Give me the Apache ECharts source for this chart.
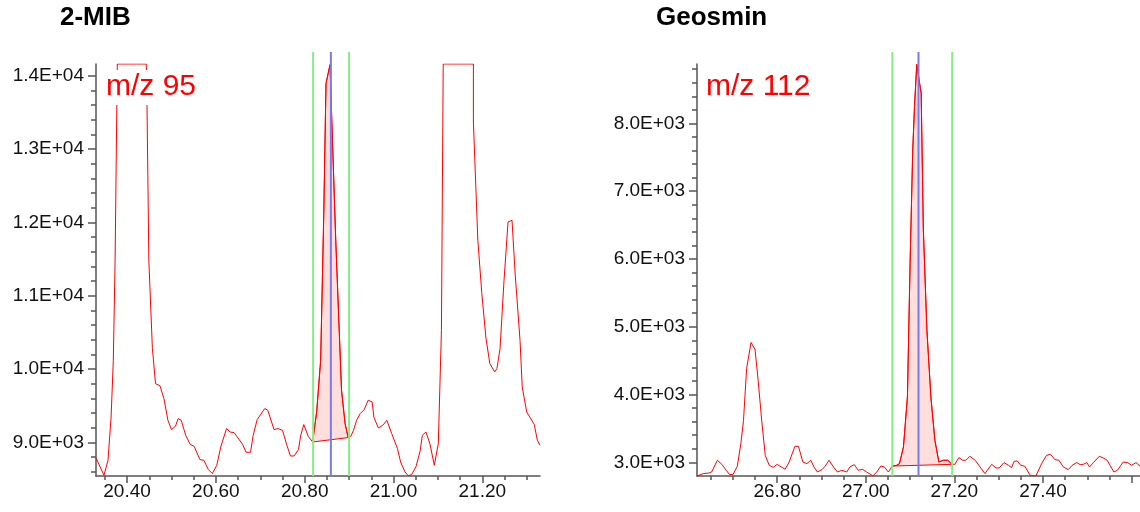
<!DOCTYPE html>
<html>
<head>
<meta charset="utf-8">
<title>2-MIB / Geosmin</title>
<script src="https://cdn.jsdelivr.net/npm/echarts@6/dist/echarts.min.js"></script>
<style>
  html, body { margin: 0; padding: 0; background: #fff; }
  #chart { width: 1140px; height: 512px; }
</style>
</head>
<body>
<div id="chart"></div>
<script>
// 2-MIB, m/z 95 : retention time (min) and abundance
// (values at 14160 are the saturated / clipped tops)
const mibTime = [
  20.330, 20.348, 20.357, 20.364, 20.369, 20.373, 20.378, 20.389, 20.400, 20.410,
  20.421, 20.432, 20.443, 20.444, 20.449, 20.457, 20.464, 20.474, 20.483, 20.492,
  20.500, 20.509, 20.515, 20.522, 20.532, 20.542, 20.551, 20.564, 20.573, 20.583,
  20.592, 20.602, 20.611, 20.624, 20.632, 20.641, 20.660, 20.668, 20.678, 20.684,
  20.693, 20.710, 20.717, 20.731, 20.740, 20.750, 20.760, 20.768, 20.776, 20.786,
  20.791, 20.798, 20.808, 20.818, 20.827, 20.836, 20.843, 20.848, 20.857, 20.870,
  20.883, 20.891, 20.898, 20.904, 20.910, 20.917, 20.925, 20.934, 20.943, 20.952,
  20.956, 20.966, 20.976, 20.985, 20.996, 21.009, 21.016, 21.026, 21.033, 21.041,
  21.051, 21.060, 21.065, 21.073, 21.082, 21.092, 21.101, 21.108, 21.112, 21.122,
  21.133, 21.144, 21.155, 21.166, 21.180, 21.180, 21.190, 21.199, 21.208, 21.217,
  21.228, 21.233, 21.240, 21.249, 21.258, 21.267, 21.274, 21.285, 21.290, 21.300,
  21.317, 21.324, 21.330
];
const mibAbund = [
  8786, 8550, 8754, 9345, 10119, 11482, 14160, 14160, 14160, 14160,
  14160, 14160, 14160, 14047, 11482, 10282, 9801, 9771, 9596, 9300,
  9173, 9218, 9323, 9300, 9095, 8973, 8945, 8764, 8754, 8628,
  8573, 8686, 8936, 9187, 9140, 9132, 8973, 8864, 8864, 9095,
  9310, 9460, 9436, 9173, 9187, 9164, 8959, 8813, 8813, 8900,
  9095, 9241, 9082, 9004, 9416, 10119, 12120, 13893, 14150, 11755,
  9709, 9255, 9064, 9082, 9164, 9300, 9391, 9446, 9573, 9550,
  9337, 9195, 9232, 9300, 9119, 8914, 8731, 8595, 8545, 8559,
  8673, 8881, 9095, 9140, 8982, 8686, 8982, 10528, 14160, 14160,
  14160, 14160, 14160, 14160, 14160, 13369, 11755, 11028, 10436, 10073,
  9959, 10005, 10278, 11210, 12005, 12028, 11301, 10391, 9754, 9413,
  9245, 9027, 8959
];

// Geosmin, m/z 112
const geoTime = [
  26.620, 26.633, 26.645, 26.652, 26.665, 26.675, 26.685, 26.692, 26.700, 26.710,
  26.718, 26.724, 26.731, 26.741, 26.750, 26.757, 26.765, 26.773, 26.782, 26.791,
  26.800, 26.809, 26.818, 26.827, 26.840, 26.848, 26.858, 26.867, 26.876, 26.883,
  26.891, 26.901, 26.908, 26.917, 26.927, 26.936, 26.946, 26.957, 26.964, 26.974,
  26.983, 26.992, 27.002, 27.016, 27.025, 27.034, 27.042, 27.051, 27.060, 27.070,
  27.076, 27.085, 27.094, 27.100, 27.106, 27.110, 27.115, 27.125, 27.130, 27.138,
  27.147, 27.156, 27.165, 27.175, 27.185, 27.195, 27.201, 27.210, 27.219, 27.226,
  27.235, 27.247, 27.258, 27.269, 27.284, 27.294, 27.301, 27.312, 27.322, 27.329,
  27.335, 27.342, 27.350, 27.359, 27.371, 27.384, 27.397, 27.408, 27.417, 27.427,
  27.436, 27.446, 27.457, 27.466, 27.476, 27.484, 27.491, 27.499, 27.505, 27.514,
  27.527, 27.536, 27.545, 27.560, 27.568, 27.581, 27.591, 27.600, 27.610, 27.619
];
const geoAbund = [
  2800, 2833, 2842, 2857, 3030, 2970, 2882, 2823, 2818, 2941,
  3276, 3620, 4384, 4768, 4665, 4211, 3620, 3103, 2956, 2926,
  2970, 2931, 2897, 3004, 3236, 3236, 3004, 2981, 3030, 2931,
  2857, 2892, 2941, 3030, 2931, 2857, 2882, 2857, 2931, 2966,
  2882, 2897, 2857, 2800, 2857, 2945, 2931, 2857, 2945, 2956,
  2981, 3226, 3965, 5935, 7608, 8248, 8870, 8445, 6427, 4950,
  3964, 3325, 3004, 3030, 3030, 2970, 2970, 3069, 3030, 3030,
  3089, 3030, 2931, 2833, 2970, 2916, 2916, 2996, 2956, 2922,
  3015, 3019, 2956, 2941, 2808, 2800, 2981, 3103, 3118, 3040,
  3030, 2931, 2892, 2956, 2996, 2966, 2970, 2996, 2931, 2996,
  3089, 3064, 3030, 2857, 2882, 3004, 2996, 2956, 2996, 2945
];

// integration window (green) and apex (blue)
const mibWindow = [20.819, 20.900];
const mibApex = 20.859;
const geoWindow = [27.060, 27.195];
const geoApex = 27.119;

// axis ranges and ticks
const mibXRange = [20.33, 21.33];
const mibYRange = [8540, 14160];
const mibMarkerTop = 14324;
const geoXRange = [26.619, 27.619];
const geoYRange = [2798, 8876];
const geoMarkerTop = 9053;

const mibXTicks = [20.40, 20.60, 20.80, 21.00, 21.20];
const mibYTicks = [9000, 10000, 11000, 12000, 13000, 14000];
const geoXTicks = [26.80, 27.00, 27.20, 27.40, 27.60];
const geoXLabels = [26.80, 27.00, 27.20, 27.40];
const geoYTicks = [3000, 4000, 5000, 6000, 7000, 8000];

function steps(from, to, step) {
  const out = [];
  for (let v = from; v <= to + step / 1000; v += step) out.push(+v.toFixed(3));
  return out;
}
const mibXMinor = steps(20.35, 21.30, 0.05);
const mibYMinor = steps(8600, 14000, 200);
const geoXMinor = steps(26.65, 27.60, 0.05);
const geoYMinor = steps(3000, 8800, 200);

function zip(xs, ys) { return xs.map((x, i) => [x, ys[i]]); }
const mibData = zip(mibTime, mibAbund);
const geoData = zip(geoTime, geoAbund);

function sci(v) {
  const p = v.toExponential(1).split('e');
  return p[0] + 'E' + p[1][0] + p[1].slice(1).padStart(2, '0');
}

const FONT = '"Liberation Sans", Arial, sans-serif';
const axisLine = { show: true, onZero: false, lineStyle: { color: '#555', width: 1.5 } };

function majorX(grid, range, ticks, labels) {
  return {
    type: 'value', gridIndex: grid, min: range[0], max: range[1],
    axisLine: axisLine,
    axisTick: { show: true, length: 7, customValues: ticks, lineStyle: { color: '#555', width: 1.5 } },
    axisLabel: { customValues: labels, formatter: v => v.toFixed(2), fontSize: 19, color: '#111', margin: 6, fontFamily: FONT },
    splitLine: { show: false }
  };
}
function majorY(grid, range, ticks) {
  return {
    type: 'value', gridIndex: grid, min: range[0], max: range[1],
    axisLine: axisLine,
    axisTick: { show: true, length: 8, customValues: ticks, lineStyle: { color: '#555', width: 1.5 } },
    axisLabel: { customValues: ticks, formatter: sci, fontSize: 19, color: '#111', margin: 12, fontFamily: FONT },
    splitLine: { show: false }
  };
}
function minorAxis(grid, range, ticks, len) {
  return {
    type: 'value', gridIndex: grid, min: range[0], max: range[1],
    axisLine: { show: false },
    axisTick: { show: true, length: len, customValues: ticks, lineStyle: { color: '#555', width: 1.5 } },
    axisLabel: { show: false },
    splitLine: { show: false }
  };
}

function peakArea(data, win, idx) {
  const pts = data.filter(p => p[0] >= win[0] - 0.002 && p[0] <= win[1] + 0.002);
  return {
    type: 'custom', xAxisIndex: idx, yAxisIndex: idx, z: 1, silent: true,
    data: [pts[0]],
    renderItem: function (params, api) {
      return {
        type: 'polygon',
        shape: { points: pts.map(p => api.coord(p)) },
        style: { fill: 'rgba(255,0,0,0.13)', stroke: '#ff0000', lineWidth: 1 }
      };
    }
  };
}
function trace(data, idx) {
  return {
    type: 'line', xAxisIndex: idx, yAxisIndex: idx, data: data, z: 2,
    symbol: 'none', lineStyle: { color: '#ff0000', width: 1 }, silent: true
  };
}
function marker(x, yMin, yTop, color, idx) {
  return {
    type: 'line', xAxisIndex: idx, yAxisIndex: idx, z: 3, clip: false,
    data: [[x, yMin], [x, yTop]], symbol: 'none', silent: true,
    lineStyle: { color: color, width: 2 }
  };
}

const GREEN = '#84ee84';
const BLUE = '#7a7af0';

const chart = echarts.init(document.getElementById('chart'));
chart.setOption({
  animation: false,
  backgroundColor: '#fff',
  title: [
    { text: '2-MIB', left: 60, top: 5, padding: 0, textStyle: { fontSize: 26, fontWeight: 'bold', color: '#000', fontFamily: FONT } },
    { text: 'Geosmin', left: 656, top: 5, padding: 0, textStyle: { fontSize: 26, fontWeight: 'bold', color: '#000', fontFamily: FONT } },
    { text: 'm/z 95', left: 104, top: 70, padding: [2, 2, 3, 2], backgroundColor: '#fff',
      textStyle: { fontSize: 30, fontWeight: 'normal', color: '#ff0000', fontFamily: FONT } },
    { text: 'm/z 112', left: 704, top: 70, padding: [2, 2, 3, 2], backgroundColor: '#fff',
      textStyle: { fontSize: 30, fontWeight: 'normal', color: '#ff0000', fontFamily: FONT } }
  ],
  grid: [
    { left: 96, top: 64, width: 444, height: 412 },
    { left: 697, top: 64, width: 443, height: 412 },
    { left: 96, top: 64, width: 444, height: 412 },
    { left: 697, top: 64, width: 443, height: 412 }
  ],
  xAxis: [
    majorX(0, mibXRange, mibXTicks, mibXTicks),
    majorX(1, geoXRange, geoXTicks, geoXLabels),
    minorAxis(2, mibXRange, mibXMinor, 4),
    minorAxis(3, geoXRange, geoXMinor, 4)
  ],
  yAxis: [
    majorY(0, mibYRange, mibYTicks),
    majorY(1, geoYRange, geoYTicks),
    minorAxis(2, mibYRange, mibYMinor, 5),
    minorAxis(3, geoYRange, geoYMinor, 5)
  ],
  series: [
    peakArea(mibData, mibWindow, 0),
    trace(mibData, 0),
    marker(mibWindow[0], mibYRange[0], mibMarkerTop, GREEN, 0),
    marker(mibWindow[1], mibYRange[0], mibMarkerTop, GREEN, 0),
    marker(mibApex, mibYRange[0], mibMarkerTop, BLUE, 0),
    peakArea(geoData, geoWindow, 1),
    trace(geoData, 1),
    marker(geoWindow[0], geoYRange[0], geoMarkerTop, GREEN, 1),
    marker(geoWindow[1], geoYRange[0], geoMarkerTop, GREEN, 1),
    marker(geoApex, geoYRange[0], geoMarkerTop, BLUE, 1)
  ]
});
</script>
</body>
</html>
